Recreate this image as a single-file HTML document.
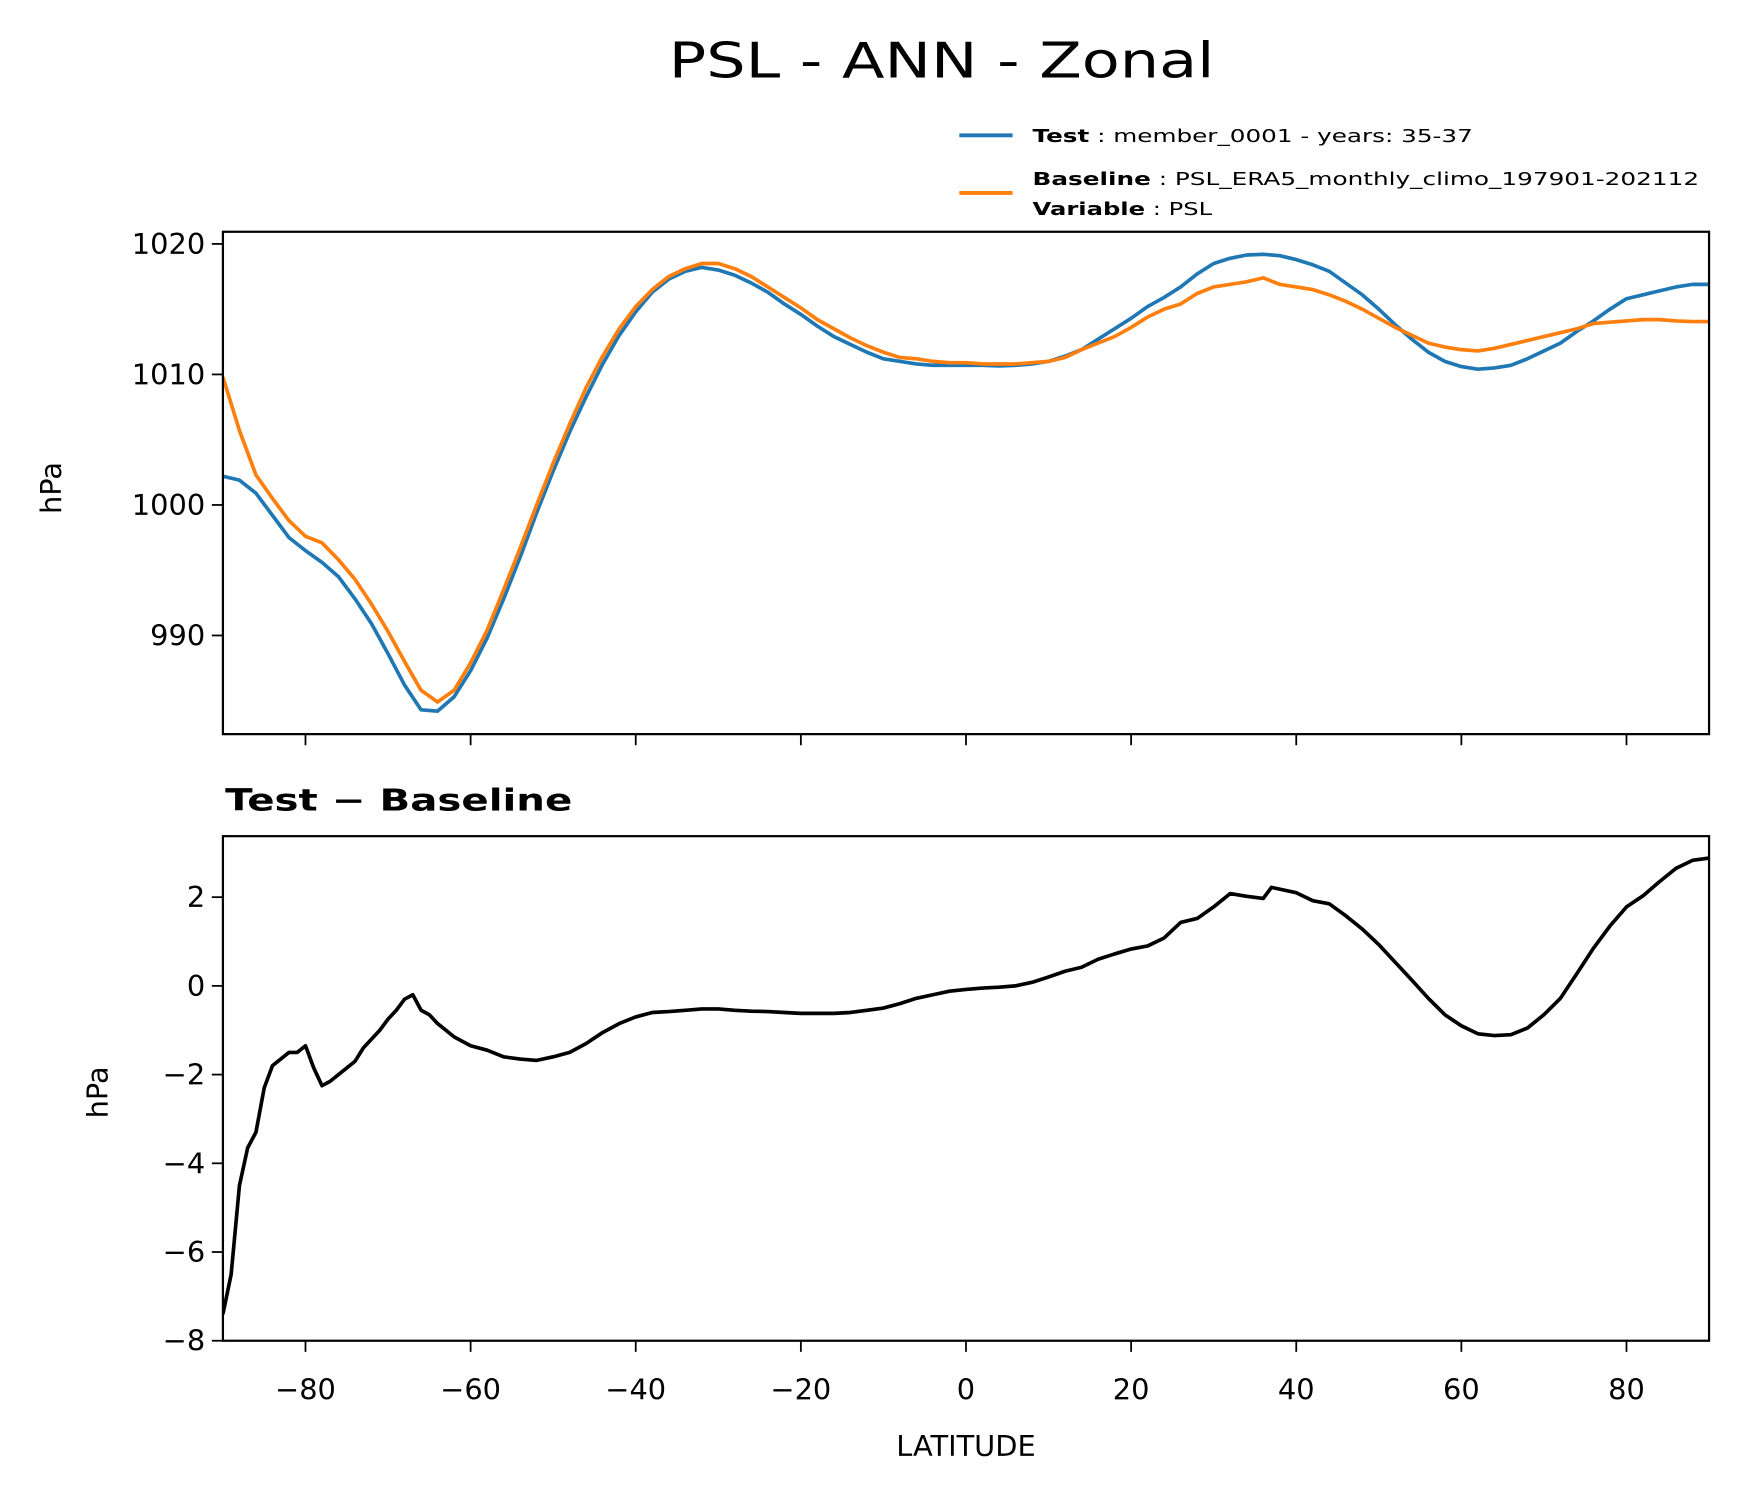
<!DOCTYPE html>
<html><head><meta charset="utf-8"><style>
html,body{margin:0;padding:0;background:#fff;}
svg{display:block;font-family:"DejaVu Sans","Liberation Sans",sans-serif;}
</style></head><body>
<svg id="chart" width="1739" height="1496" viewBox="0 0 1568 1349" preserveAspectRatio="none" xmlns="http://www.w3.org/2000/svg">
<rect width="1568" height="1349" fill="#fff"/>
<text x="849" y="70" font-size="44" text-anchor="middle" textLength="492" lengthAdjust="spacingAndGlyphs">PSL - ANN - Zonal</text>
<g>
<line x1="865" y1="122" x2="913" y2="122" stroke="#1f77b4" stroke-width="3.5"/>
<text x="931" y="128" font-size="16" textLength="397" lengthAdjust="spacingAndGlyphs"><tspan font-weight="bold">Test</tspan> : member_0001 - years: 35-37</text>
<line x1="865" y1="174" x2="913" y2="174" stroke="#ff7f0e" stroke-width="3.5"/>
<text x="931" y="167" font-size="16" textLength="601" lengthAdjust="spacingAndGlyphs"><tspan font-weight="bold">Baseline</tspan> : PSL_ERA5_monthly_climo_197901-202112</text>
<text x="931" y="194" font-size="16" textLength="162" lengthAdjust="spacingAndGlyphs"><tspan font-weight="bold">Variable</tspan> : PSL</text>
</g>
<g id="gtop"></g>
<g id="gbot"></g>
<text x="203" y="731" font-size="27" font-weight="bold" textLength="313" lengthAdjust="spacingAndGlyphs">Test − Baseline</text>
<text transform="translate(55,440) rotate(-90)" font-size="26" text-anchor="middle">hPa</text>
<text transform="translate(97,985) rotate(-90)" font-size="26" text-anchor="middle">hPa</text>
<text x="871" y="1313" font-size="26" text-anchor="middle">LATITUDE</text>
</svg>
<script>
var lats=[-90,-88,-86,-84,-82,-80,-78,-76,-74,-72,-70,-68,-66,-64,-62,-60,-58,-56,-54,-52,-50,-48,-46,-44,-42,-40,-38,-36,-34,-32,-30,-28,-26,-24,-22,-20,-18,-16,-14,-12,-10,-8,-6,-4,-2,0,2,4,6,8,10,12,14,16,18,20,22,24,26,28,30,32,34,36,38,40,42,44,46,48,50,52,54,56,58,60,62,64,66,68,70,72,74,76,78,80,82,84,86,88,90];
var testVals=[1002.2,1001.9,1000.9,999.2,997.5,996.5,995.6,994.5,992.8,990.9,988.6,986.2,984.3,984.2,985.3,987.3,989.8,992.8,996.0,999.4,1002.6,1005.6,1008.3,1010.8,1013.0,1014.8,1016.3,1017.3,1017.9,1018.2,1018.0,1017.6,1017.0,1016.3,1015.4,1014.6,1013.7,1012.9,1012.3,1011.7,1011.2,1011.0,1010.8,1010.7,1010.7,1010.7,1010.7,1010.65,1010.7,1010.8,1011.0,1011.4,1011.9,1012.7,1013.5,1014.3,1015.2,1015.9,1016.7,1017.7,1018.5,1018.9,1019.15,1019.2,1019.1,1018.8,1018.4,1017.9,1017.0,1016.1,1015.0,1013.8,1012.7,1011.7,1011.0,1010.6,1010.4,1010.5,1010.7,1011.2,1011.8,1012.4,1013.3,1014.1,1015.0,1015.8,1016.1,1016.4,1016.7,1016.9,1016.9];
var baseVals=[1009.8,1005.7,1002.3,1000.5,998.8,997.6,997.1,995.8,994.3,992.4,990.3,988.0,985.8,984.9,985.8,987.9,990.4,993.5,996.7,1000.0,1003.2,1006.2,1009.0,1011.4,1013.5,1015.2,1016.5,1017.5,1018.1,1018.5,1018.5,1018.1,1017.5,1016.7,1015.9,1015.1,1014.2,1013.5,1012.8,1012.2,1011.7,1011.3,1011.2,1011.0,1010.9,1010.9,1010.8,1010.8,1010.8,1010.9,1011.0,1011.3,1011.9,1012.4,1012.9,1013.6,1014.4,1015.0,1015.4,1016.2,1016.7,1016.9,1017.1,1017.4,1016.9,1016.7,1016.5,1016.1,1015.6,1015.0,1014.3,1013.6,1013.0,1012.4,1012.1,1011.9,1011.8,1012.0,1012.3,1012.6,1012.9,1013.2,1013.5,1013.9,1014.0,1014.1,1014.2,1014.2,1014.1,1014.05,1014.05];
var diffLats=[-90,-89,-88,-87,-86,-85,-84,-83,-82,-81,-80,-79,-78,-77,-76,-75,-74,-73,-72,-71,-70,-69,-68,-67,-66,-65,-64,-63,-62,-60,-58,-56,-54,-52,-50,-48,-46,-44,-42,-40,-38,-36,-34,-32,-30,-28,-26,-24,-22,-20,-18,-16,-14,-12,-10,-8,-6,-4,-2,0,2,4,6,8,10,12,14,16,18,20,22,24,26,28,30,32,34,36,37,40,42,44,46,48,50,52,54,56,58,60,62,64,66,68,70,72,74,76,78,80,82,84,86,88,90];
var diffVals=[-7.4,-6.5,-4.5,-3.65,-3.3,-2.3,-1.8,-1.65,-1.5,-1.5,-1.35,-1.85,-2.25,-2.15,-2.0,-1.85,-1.7,-1.4,-1.2,-1.0,-0.75,-0.55,-0.3,-0.2,-0.55,-0.65,-0.85,-1.0,-1.15,-1.35,-1.45,-1.6,-1.65,-1.68,-1.6,-1.5,-1.3,-1.05,-0.85,-0.7,-0.6,-0.58,-0.55,-0.52,-0.52,-0.55,-0.57,-0.58,-0.6,-0.62,-0.62,-0.62,-0.6,-0.55,-0.5,-0.4,-0.28,-0.2,-0.12,-0.08,-0.05,-0.03,0,0.08,0.2,0.33,0.42,0.6,0.72,0.83,0.9,1.08,1.43,1.52,1.78,2.08,2.02,1.97,2.22,2.1,1.92,1.85,1.58,1.28,0.93,0.53,0.13,-0.28,-0.65,-0.9,-1.08,-1.12,-1.1,-0.95,-0.65,-0.28,0.28,0.85,1.35,1.78,2.03,2.35,2.65,2.83,2.88];
var xTicks=[-80,-60,-40,-20,0,20,40,60,80];
var xTickLabels=["−80","−60","−40","−20","0","20","40","60","80"];
var topYTicks=[990,1000,1010,1020];
var botYTicks=[-8,-6,-4,-2,0,2];
var botYTickLabels=["−8","−6","−4","−2","0","2"];

var NS="http://www.w3.org/2000/svg";
var L=201,R=1541;
function sx(lat){return L+(lat+90)/180*(R-L);}
var T1=209,B1=662,ymin1=982.44,ymax1=1020.93;
function sy1(v){return B1-(v-ymin1)/(ymax1-ymin1)*(B1-T1);}
var T2=754,B2=1209,ymin2=-8,ymax2=3.375;
function sy2(v){return B2-(v-ymin2)/(ymax2-ymin2)*(B2-T2);}
function mk(tag,attrs,parent){var e=document.createElementNS(NS,tag);for(var k in attrs)e.setAttribute(k,attrs[k]);parent.appendChild(e);return e;}
var gTop=document.getElementById('gtop'),gBot=document.getElementById('gbot');

function path(xs,ys,fy,color,g,name,clipId){
  var d="";for(var i=0;i<xs.length;i++){d+=(i?"L":"M")+sx(xs[i]).toFixed(2)+","+fy(ys[i]).toFixed(2);}
  var p=mk('path',{d:d,fill:'none',stroke:color,'stroke-width':3.3,'stroke-linejoin':'round','clip-path':'url(#'+clipId+')'},g);
  
  
}
var defs=mk('defs',{},document.getElementById('chart'));
var c1=mk('clipPath',{id:'c1'},defs);mk('rect',{x:L,y:T1,width:R-L,height:B1-T1},c1);
var c2=mk('clipPath',{id:'c2'},defs);mk('rect',{x:L,y:T2,width:R-L,height:B2-T2},c2);

path(lats,testVals,sy1,'#1f77b4',gTop,'test-line','c1');
path(lats,baseVals,sy1,'#ff7f0e',gTop,'baseline-line','c1');
path(diffLats,diffVals,sy2,'#000',gBot,'difference-line','c2');

function frame(g,T,B,name){
  var r=mk('rect',{x:L,y:T,width:R-L,height:B-T,fill:'none',stroke:'#000','stroke-width':2},g);
  
  
}
frame(gTop,T1,B1,'top-plot-frame');
frame(gBot,T2,B2,'bottom-plot-frame');

xTicks.forEach(function(t,i){
  var x=sx(t);
  var a=mk('line',{x1:x,y1:B1,x2:x,y2:B1+10,stroke:'#000','stroke-width':1.6},gTop);
  
  
  var b=mk('line',{x1:x,y1:B2,x2:x,y2:B2+10,stroke:'#000','stroke-width':1.6},gBot);
  
  
  var tx=mk('text',{x:x,y:1262,'font-size':26,'text-anchor':'middle'},gBot);
  tx.textContent=xTickLabels[i];
  
  
});
topYTicks.forEach(function(t){
  var y=sy1(t);
  var a=mk('line',{x1:L-10,y1:y,x2:L,y2:y,stroke:'#000','stroke-width':1.6},gTop);
  
  
  var tx=mk('text',{x:L-16,y:y+9,'font-size':26,'text-anchor':'end'},gTop);
  tx.textContent=String(t);
  
  
});
botYTicks.forEach(function(t,i){
  var y=sy2(t);
  var a=mk('line',{x1:L-10,y1:y,x2:L,y2:y,stroke:'#000','stroke-width':1.6},gBot);
  
  
  var tx=mk('text',{x:L-16,y:y+9,'font-size':26,'text-anchor':'end'},gBot);
  tx.textContent=botYTickLabels[i];
  
  
});
</script>
</body></html>
